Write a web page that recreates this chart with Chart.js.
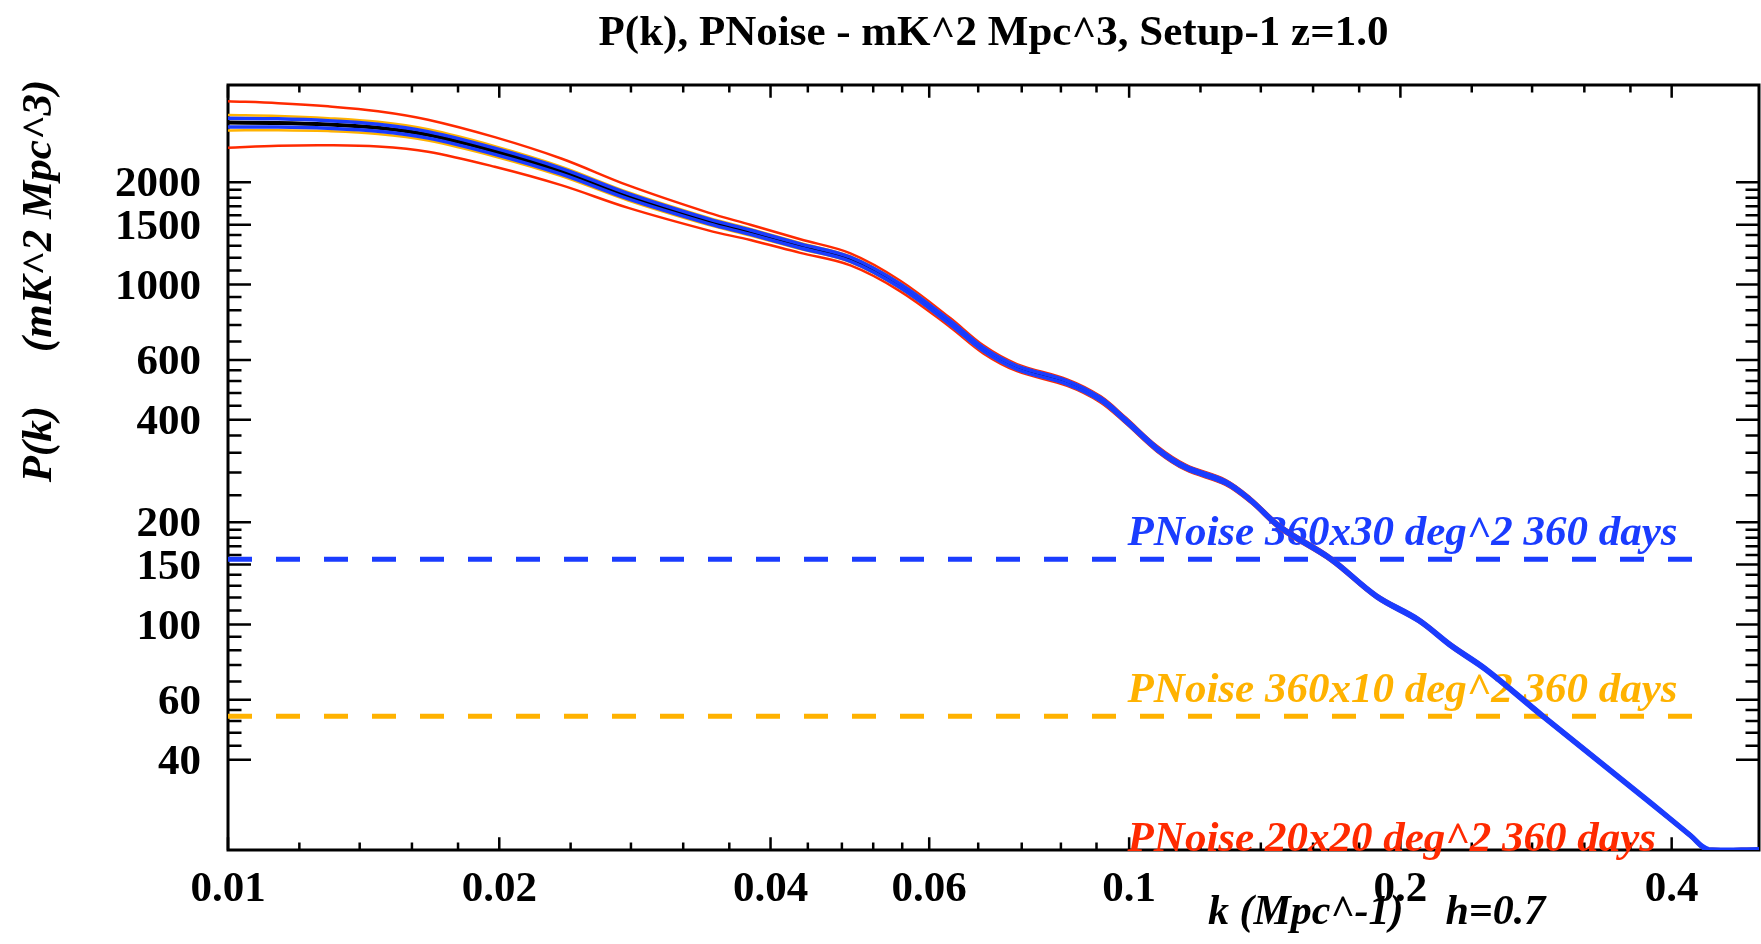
<!DOCTYPE html>
<html>
<head>
<meta charset="utf-8">
<title>P(k), PNoise - Setup-1 z=1.0</title>
<script src="https://cdn.jsdelivr.net/npm/chart.js@4.4.1/dist/chart.umd.min.js"></script>
<style>
    html, body { margin: 0; padding: 0; background: #fff; }
    #wrap { width: 1761px; height: 944px; }
</style>
</head>
<body>
<div id="wrap"><canvas id="pkChart" width="1761" height="944"></canvas></div>
<script>
// k in Mpc^-1, P(k) in mK^2 Mpc^3
const kValues = [0.0100, 0.01137, 0.01291, 0.01467, 0.01667, 0.01977, 0.02343, 0.02781, 0.03411, 0.03799,
    0.04316, 0.04906, 0.05573, 0.06331, 0.06889, 0.07508, 0.08535, 0.09292, 0.09906, 0.1075,
    0.1155, 0.1279, 0.1364, 0.1472, 0.1673, 0.1882, 0.2095, 0.2279, 0.2486, 0.2879, 0.3771, 0.4200,
    0.4398, 0.5];
const pkValues = [2996, 2990, 2958, 2893, 2758, 2468, 2155, 1819, 1536, 1426,
    1299, 1187, 991, 773, 645, 570, 515, 460, 399, 328,
    290, 262, 232, 193, 156, 121, 103, 86.5, 73.9, 53.7, 30.2, 23.9,
    21.7, 21.7];

// fractional errors on P(k) for each survey
const err20x20 = [0.156, 0.143, 0.131, 0.119, 0.108, 0.100, 0.090, 0.076, 0.060, 0.052,
    0.046, 0.041, 0.036, 0.031, 0.027, 0.024, 0.022, 0.021, 0.020, 0.019,
    0.018, 0.017, 0.016, 0.015, 0.014, 0.013, 0.012, 0.012, 0.011, 0.010, 0.009, 0.008,
    0.008, 0.008];
const err360x10 = [0.052, 0.048, 0.044, 0.041, 0.038, 0.035, 0.032, 0.028, 0.024, 0.022,
    0.020, 0.019, 0.017, 0.016, 0.015, 0.014, 0.013, 0.013, 0.012, 0.012,
    0.011, 0.011, 0.010, 0.010, 0.010, 0.009, 0.009, 0.009, 0.009, 0.009, 0.008, 0.008,
    0.008, 0.008];
const err360x30 = [0.030, 0.028, 0.026, 0.024, 0.022, 0.021, 0.020, 0.018, 0.016, 0.015,
    0.014, 0.014, 0.013, 0.013, 0.012, 0.012, 0.012, 0.011, 0.011, 0.011,
    0.010, 0.010, 0.010, 0.010, 0.010, 0.010, 0.010, 0.010, 0.010, 0.010, 0.009, 0.008,
    0.008, 0.008];

// noise power levels
const noiseNames = ['PNoise 360x30 deg^2 360 days', 'PNoise 360x10 deg^2 360 days', 'PNoise 20x20 deg^2 360 days'];
const noiseValues = [155.6, 53.7, 19.6];
const noiseK = [0.01, 0.429];
const noiseLabelK = 0.0996;

const xRange = [0.01, 0.5];
const yRange = [21.7, 3865];
const xTicks = [0.01, 0.02, 0.04, 0.06, 0.1, 0.2, 0.4];
const xMinorTicks = [0.012, 0.014, 0.016, 0.018, 0.024, 0.028, 0.032, 0.036, 0.044, 0.048, 0.052, 0.056,
    0.068, 0.076, 0.084, 0.092, 0.12, 0.14, 0.16, 0.18, 0.24, 0.28, 0.32, 0.36];
const yTicks = [40, 60, 100, 150, 200, 400, 600, 1000, 1500, 2000];
const yMinorTicks = [44, 48, 52, 56, 68, 76, 84, 92, 110, 120, 130, 140, 160, 170, 180, 190,
    240, 280, 320, 360, 440, 480, 520, 560, 680, 760, 840, 920, 1100, 1200, 1300, 1400, 1600, 1700, 1800, 1900];

const titleText = 'P(k), PNoise - mK^2 Mpc^3, Setup-1 z=1.0';
const xTitle = 'k (Mpc^-1)    h=0.7';
const yTitle = 'P(k)     (mK^2 Mpc^3)';

const RED = '#ff2a00';
const ORANGE = '#ffb200';
const BLUE = '#1a3cff';
const noiseColors = [BLUE, ORANGE, RED];
const SERIF = '"Liberation Serif", "Times New Roman", serif';

function curve(errs, sign) {
    return kValues.map((k, i) => ({ x: k, y: pkValues[i] * (1 + sign * errs[i]) }));
}

function lineSet(data, color, width, order) {
    return {
        data,
        borderColor: color,
        borderWidth: width,
        pointRadius: 0,
        fill: false,
        tension: 0.35,
        order
    };
}

const datasets = [
    lineSet(curve(err360x30, 1), BLUE, 3.5, 0),
    lineSet(curve(err360x30, -1), BLUE, 3.5, 0),
    lineSet(curve(err360x30, 0), '#000000', 4, 1),
    lineSet(curve(err360x10, 1), ORANGE, 2.5, 2),
    lineSet(curve(err360x10, -1), ORANGE, 2.5, 2),
    lineSet(curve(err20x20, 1), RED, 2.5, 3),
    lineSet(curve(err20x20, -1), RED, 2.5, 3)
];
noiseValues.forEach((v, i) => {
    const ds = lineSet(noiseK.map(k => ({ x: k, y: v })), noiseColors[i], 5, 5);
    ds.borderDash = [24, 24];
    ds.tension = 0;
    datasets.push(ds);
});

const decorPlugin = {
    id: 'decor',
    beforeDatasetsDraw(chart) {
        const ctx = chart.ctx;
        const a = chart.chartArea;
        const xs = chart.scales.x;
        const ys = chart.scales.y;
        ctx.save();
        ctx.strokeStyle = '#000';
        ctx.lineWidth = 3;
        ctx.strokeRect(a.left, a.top, a.right - a.left, a.bottom - a.top);

        const yTick = (v, len) => {
            const y = ys.getPixelForValue(v);
            ctx.beginPath();
            ctx.moveTo(a.left, y); ctx.lineTo(a.left + len, y);
            ctx.moveTo(a.right, y); ctx.lineTo(a.right - len, y);
            ctx.stroke();
        };
        const xTick = (v, len) => {
            const x = xs.getPixelForValue(v);
            ctx.beginPath();
            ctx.moveTo(x, a.bottom); ctx.lineTo(x, a.bottom - len);
            ctx.moveTo(x, a.top); ctx.lineTo(x, a.top + len);
            ctx.stroke();
        };
        ctx.lineWidth = 2.5;
        yTicks.forEach(v => yTick(v, 23));
        yMinorTicks.forEach(v => yTick(v, 13.5));
        xTicks.forEach(v => xTick(v, 12.7));
        xMinorTicks.forEach(v => xTick(v, 7.5));

        ctx.font = 'italic bold 43px ' + SERIF;
        ctx.textAlign = 'left';
        ctx.textBaseline = 'alphabetic';
        noiseValues.forEach((v, i) => {
            ctx.fillStyle = noiseColors[i];
            ctx.fillText(noiseNames[i], xs.getPixelForValue(noiseLabelK), ys.getPixelForValue(v) - 14.5);
        });
        ctx.restore();
    },
    afterDraw(chart) {
        const ctx = chart.ctx;
        const a = chart.chartArea;
        ctx.save();
        ctx.fillStyle = '#000';
        ctx.font = 'italic bold 42px ' + SERIF;
        ctx.textAlign = 'left';
        ctx.textBaseline = 'alphabetic';
        ctx.fillText(xTitle, a.left + 980, a.bottom + 74);

        ctx.font = 'italic bold 43px ' + SERIF;
        ctx.translate(51, a.top + 196);
        ctx.rotate(-Math.PI / 2);
        ctx.textAlign = 'center';
        ctx.fillText(yTitle, 0, 0);
        ctx.restore();
    }
};

const tickFont = { family: SERIF, size: 43, weight: 'bold' };

new Chart(document.getElementById('pkChart'), {
    type: 'line',
    data: { datasets },
    options: {
        responsive: false,
        animation: false,
        events: [],
        layout: { padding: { left: 0, right: 2, top: 0, bottom: 0 } },
        plugins: {
            legend: { display: false },
            tooltip: { enabled: false },
            title: {
                display: true,
                text: titleText,
                fullSize: false,
                color: '#000',
                font: { family: SERIF, size: 43, weight: 'bold', lineHeight: 1.2 },
                padding: { top: 8, bottom: 25.4 }
            }
        },
        scales: {
            x: {
                type: 'logarithmic',
                min: xRange[0],
                max: xRange[1],
                afterBuildTicks: s => { s.ticks = xTicks.map(v => ({ value: v })); },
                afterFit: s => { s.height = 94; },
                ticks: {
                    autoSkip: false,
                    maxRotation: 0,
                    color: '#000',
                    font: tickFont,
                    padding: 14,
                    callback: v => String(v)
                },
                grid: { display: false, drawTicks: false, tickLength: 0 },
                border: { display: false }
            },
            y: {
                type: 'logarithmic',
                min: yRange[0],
                max: yRange[1],
                afterBuildTicks: s => { s.ticks = yTicks.map(v => ({ value: v })); },
                afterFit: s => { s.width = 228; },
                ticks: {
                    autoSkip: false,
                    color: '#000',
                    font: tickFont,
                    padding: 27,
                    labelOffset: 3,
                    callback: v => String(v)
                },
                grid: { display: false, drawTicks: false, tickLength: 0 },
                border: { display: false }
            }
        }
    },
    plugins: [decorPlugin]
});
</script>
</body>
</html>
